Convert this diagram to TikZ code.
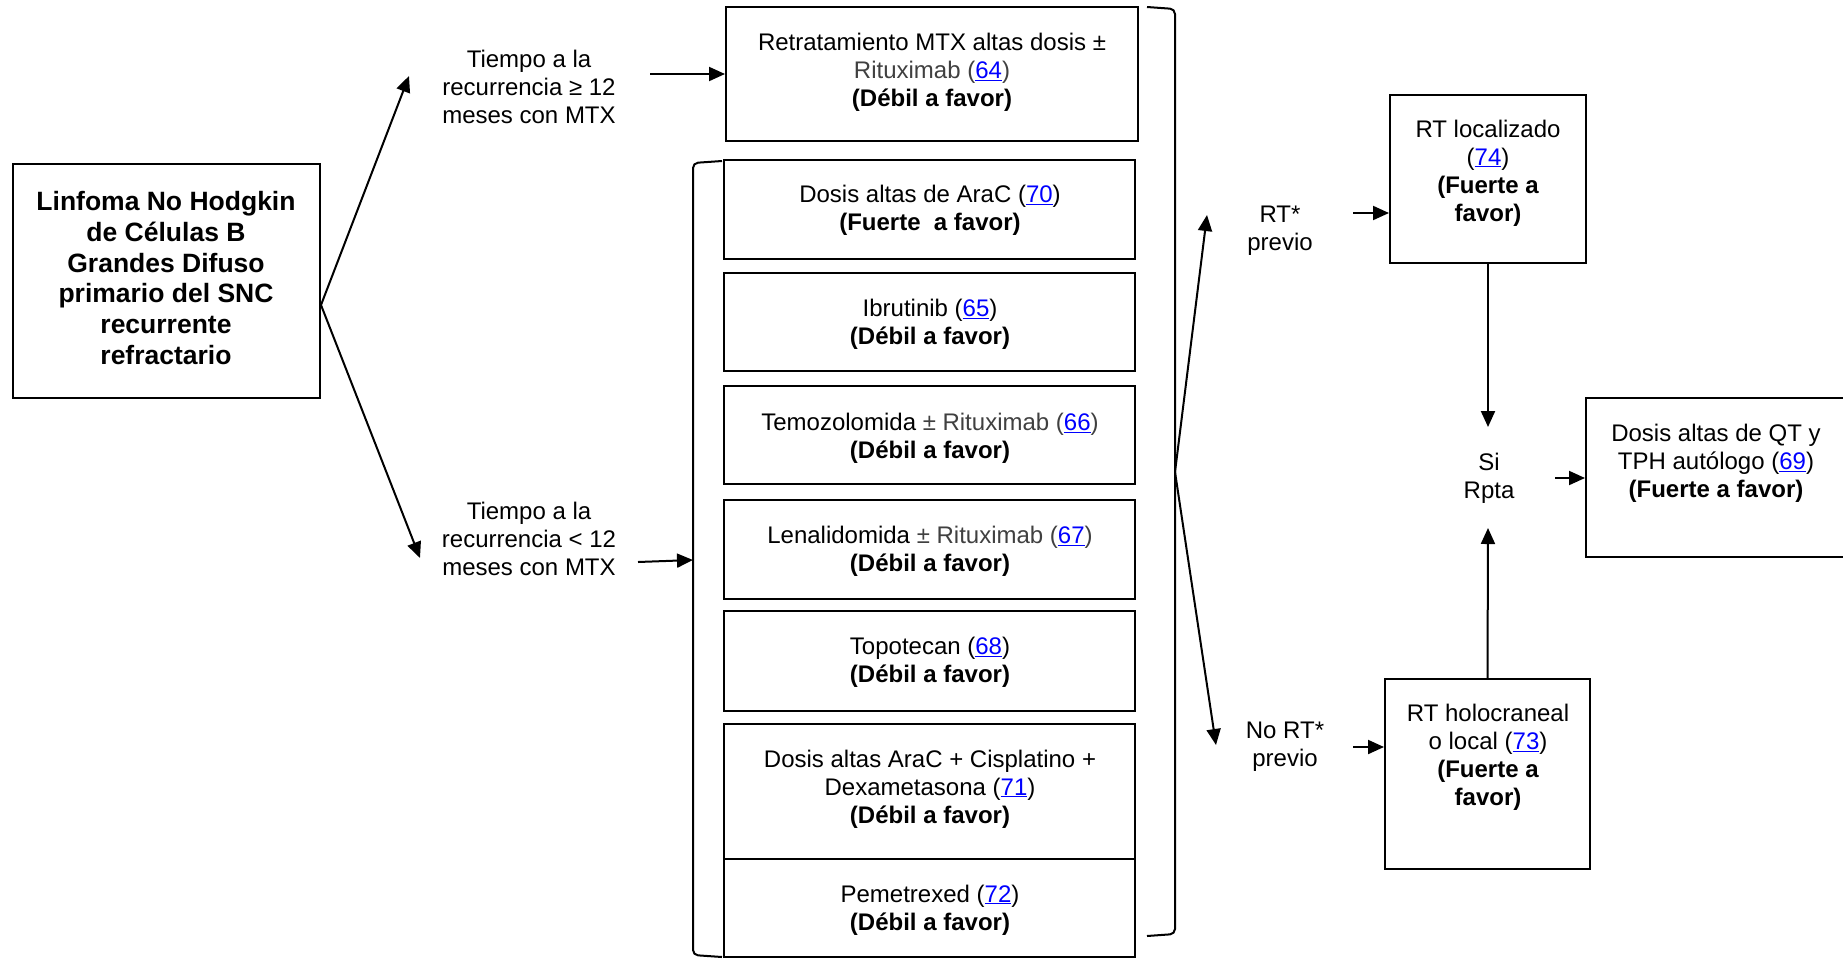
\documentclass[tikz,border=0pt]{standalone}
\usepackage{fontspec}
\setmainfont{Liberation Sans}
\usetikzlibrary{arrows.meta,calc}
\definecolor{linkblue}{RGB}{0,0,255}
\definecolor{txtgray}{RGB}{64,64,64}
\newcommand{\lnk}[1]{\textcolor{linkblue}{\underline{#1}}}
\newcommand{\gr}[1]{\textcolor{txtgray}{#1}}
\begin{document}
\begin{tikzpicture}[x=1pt,y=-1pt,
  box/.style={draw, line width=2pt, inner sep=0pt},
  txt/.style={font=\fontsize{24}{28}\selectfont, align=center, inner sep=0pt},
  bigtxt/.style={font=\fontsize{26.5}{30.8}\selectfont\bfseries, align=center, inner sep=0pt},
  arr/.style={line width=2pt, -{Triangle[length=16pt,width=14pt]}},
  brk/.style={line width=2pt, rounded corners=5pt}]
\useasboundingbox (0,0) rectangle (1843,959);
\fill[white] (0,0) rectangle (1843,959);
\clip (0,0) rectangle (1843,959);

% left box
\node[box, minimum width=307pt, minimum height=234pt] (lnh) at (166.5,281) {};
\node[bigtxt] (lnht) at (166,278) {Linfoma No Hodgkin\\de Células B\\Grandes Difuso\\primario del SNC\\recurrente\\refractario};

% labels
\node[txt] (t1) at (529,87) {Tiempo a la\\recurrencia ≥ 12\\meses con MTX};
\node[txt] (t2) at (529,539) {Tiempo a la\\recurrencia < 12\\meses con MTX};

% top box
\node[box, minimum width=412pt, minimum height=134pt] (retr) at (932,74) {};
\node[txt] (retrt) at (932,72) {Retratamiento MTX altas dosis ±\\\gr{Rituximab (}\lnk{64}\gr{)}\\\textbf{(Débil a favor)}};

% middle boxes
\node[box, minimum width=411pt, minimum height=99pt] (b1) at (929.5,209.5) {};
\node[box, minimum width=411pt, minimum height=98pt] (b2) at (929.5,322) {};
\node[box, minimum width=411pt, minimum height=98pt] (b3) at (929.5,435) {};
\node[box, minimum width=411pt, minimum height=99pt] (b4) at (929.5,549.5) {};
\node[box, minimum width=411pt, minimum height=100pt] (b5) at (929.5,661) {};
\node[box, minimum width=411pt, minimum height=135pt] (b6) at (929.5,791.5) {};
\node[box, minimum width=411pt, minimum height=98pt] (b7) at (929.5,908) {};

\node[txt] (b1t) at (930,210) {Dosis altas de AraC (\lnk{70})\\\textbf{(Fuerte\ \ a favor)}};
\node[txt] (b2t) at (930,324) {Ibrutinib (\lnk{65})\\\textbf{(Débil a favor)}};
\node[txt] (b3t) at (930,438) {Temozolomida \gr{± Rituximab (}\lnk{66}\gr{)}\\\textbf{(Débil a favor)}};
\node[txt] (b4t) at (930,551) {Lenalidomida \gr{± Rituximab (}\lnk{67}\gr{)}\\\textbf{(Débil a favor)}};
\node[txt] (b5t) at (930,662) {Topotecan (\lnk{68})\\\textbf{(Débil a favor)}};
\node[txt] (b6t) at (930,789) {Dosis altas AraC + Cisplatino +\\Dexametasona (\lnk{71})\\\textbf{(Débil a favor)}};
\node[txt] (b7t) at (930,910) {Pemetrexed (\lnk{72})\\\textbf{(Débil a favor)}};

% brackets
\draw[brk] (722,161) -- (693,163) -- (693,955) -- (722,957);
\draw[brk] (1147,7) -- (1175,9) -- (1175,934) -- (1147,936);
\coordinate (lbm) at (693,560);
\coordinate (rbm) at (1175,472);

% right side
\node[txt] (rtp) at (1280,231) {RT*\\previo};
\node[txt] (nrtp) at (1285,747) {No RT*\\previo};
\node[box, minimum width=196pt, minimum height=168pt] (rtloc) at (1488,179) {};
\node[txt] (rtloct) at (1488,173) {RT localizado\\(\lnk{74})\\\textbf{(Fuerte a}\\\textbf{favor)}};
\node[box, minimum width=205pt, minimum height=190pt] (holo) at (1487.5,774) {};
\node[txt] (holot) at (1488,757) {RT holocraneal\\o local (\lnk{73})\\\textbf{(Fuerte a}\\\textbf{favor)}};
\node[txt] (si) at (1489,478) {Si\\Rpta};
\node[box, minimum width=274pt, minimum height=159pt] (qt) at (1723,477.5) {};
\node[txt] (qtt) at (1716,463) {Dosis altas de QT y\\TPH autólogo (\lnk{69})\\\textbf{(Fuerte a favor)}};

% connectors
\coordinate (lsrc) at (lnh.east |- 0,305);
\coordinate (up1) at (409,76);
\coordinate (dn1) at (420,558);
\draw[arr] (lsrc) -- (up1);
\draw[arr] (lsrc) -- (dn1);
\coordinate (a1s) at (650,74);
\draw[arr] (a1s) -- (retr.west);
\coordinate (a2s) at (638,562);
\draw[arr] (a2s) -- (lbm);
\coordinate (up2) at (1207,215);
\coordinate (dn2) at (1216,745);
\draw[arr] (rbm) -- (up2);
\draw[arr] (rbm) -- (dn2);
\coordinate (a3s) at (1353,213);
\draw[arr] (a3s) -- (a3s -| rtloc.west);
\coordinate (a4s) at (1353,747);
\draw[arr] (a4s) -- (a4s -| holo.west);
\coordinate (sitop) at (1488,427);
\coordinate (sibot) at (1488,528);
\draw[arr] (rtloc.south) -- (sitop);
\draw[arr] (holo.north) -- (sibot);
\coordinate (a5s) at (1555,478);
\draw[arr] (a5s) -- (a5s -| qt.west);
\end{tikzpicture}
\end{document}
